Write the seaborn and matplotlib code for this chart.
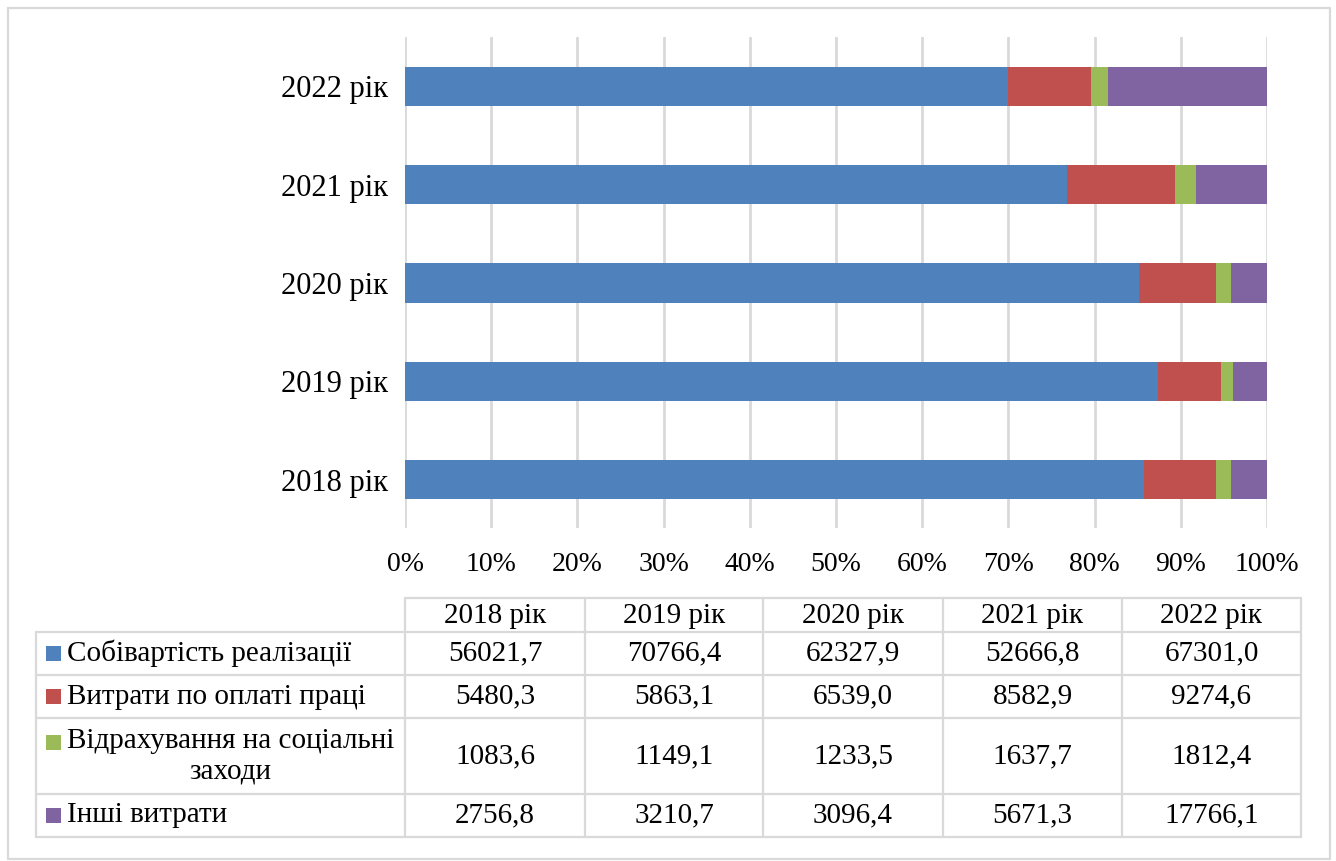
import numpy as np
import pandas as pd
import matplotlib
matplotlib.use("Agg")
import matplotlib.pyplot as plt
import seaborn as sns

# ---------------- data ----------------
years = ["2018 рік", "2019 рік", "2020 рік", "2021 рік", "2022 рік"]
series_names = ["Собівартість реалізації", "Витрати по оплаті праці",
                "Відрахування на соціальні\nзаходи", "Інші витрати"]
cost_of_sales = [56021.7, 70766.4, 62327.9, 52666.8, 67301.0]
labour_costs = [5480.3, 5863.1, 6539.0, 8582.9, 9274.6]
social_contrib = [1083.6, 1149.1, 1233.5, 1637.7, 1812.4]
other_costs = [2756.8, 3210.7, 3096.4, 5671.3, 17766.1]
value_labels = [
    ["56021,7", "70766,4", "62327,9", "52666,8", "67301,0"],
    ["5480,3", "5863,1", "6539,0", "8582,9", "9274,6"],
    ["1083,6", "1149,1", "1233,5", "1637,7", "1812,4"],
    ["2756,8", "3210,7", "3096,4", "5671,3", "17766,1"],
]
colors = ["#4F81BD", "#C0504D", "#9BBB59", "#8064A2"]

sns.set_theme(style="white")
plt.rcParams["font.family"] = ["Liberation Serif", "DejaVu Serif"]

W, H = 1336, 861
fig = plt.figure(figsize=(W / 100, H / 100), dpi=100)
fig.patch.set_facecolor("white")

# ---------------- stacked 100% bars ----------------
vals = np.array([cost_of_sales, labour_costs, social_contrib, other_costs])
shares = vals / vals.sum(axis=0) * 100
cum = np.cumsum(shares, axis=0)

df = pd.DataFrame({"year": years})
for i in range(4):
    df[f"c{i}"] = cum[i]

ax_l, ax_r, ax_t, ax_b = 405, 1267, 37, 528
ax = fig.add_axes([ax_l / W, 1 - ax_b / H, (ax_r - ax_l) / W, (ax_b - ax_t) / H])
order = years[::-1]
for i in range(3, -1, -1):
    sns.barplot(data=df, y="year", x=f"c{i}", order=order, orient="h",
                color=colors[i], saturation=1, width=0.4, ax=ax,
                edgecolor="none", linewidth=0)

ax.set_xlim(0, 100)
ax.set_ylim(4.49, -0.5)
ax.set_xticks(np.arange(0, 101, 10))
ax.set_xticklabels([f"{t}%" for t in range(0, 101, 10)])
ax.xaxis.grid(True, color="#D9D9D9", linewidth=2)
ax.yaxis.grid(False)
ax.set_axisbelow(True)
for s in ax.spines.values():
    s.set_visible(False)
ax.set_xlabel("")
ax.set_ylabel("")
ax.tick_params(axis="x", length=0, pad=17, labelsize=20, colors="black")
ax.tick_params(axis="y", length=0, pad=12, labelsize=22, colors="black")

# ---------------- data table ----------------
ov = fig.add_axes([0, 0, 1, 1])
ov.set_xlim(0, W)
ov.set_ylim(H, 0)
ov.axis("off")
ov.patch.set_alpha(0)

gc = "#D9D9D9"
lw = 1.6
col_x = [405, 585, 763, 943, 1122, 1301]
row_y = [598, 632, 675, 718, 794, 837]
left_x = 36

# outer frame of the chart
ov.plot([8, 1330, 1330, 8, 8], [8, 8, 859, 859, 8], color=gc, lw=lw)

# table grid
ov.plot([col_x[0], col_x[-1]], [row_y[0], row_y[0]], color=gc, lw=lw)
for y in row_y[1:]:
    ov.plot([left_x, col_x[-1]], [y, y], color=gc, lw=lw)
for x in col_x:
    ov.plot([x, x], [row_y[0], row_y[-1]], color=gc, lw=lw)
ov.plot([left_x, left_x], [row_y[1], row_y[-1]], color=gc, lw=lw)

fs = 21
for j, yr in enumerate(years):
    cx = (col_x[j] + col_x[j + 1]) / 2
    ov.text(cx, (row_y[0] + row_y[1]) / 2 + 1, yr, ha="center", va="center",
            fontsize=fs, color="black")

msz = 15
for i, name in enumerate(series_names):
    cy = (row_y[i + 1] + row_y[i + 2]) / 2
    if "\n" in name:
        first_y = cy - 14
        ov.add_patch(plt.Rectangle((46, first_y - msz / 2), msz, msz,
                                   color=colors[i], lw=0))
        ov.text(67, cy, name, ha="left", va="center", fontsize=fs,
                multialignment="center", color="black", linespacing=1.2)
    else:
        ov.add_patch(plt.Rectangle((46, cy - msz / 2), msz, msz,
                                   color=colors[i], lw=0))
        ov.text(67, cy, name, ha="left", va="center", fontsize=fs, color="black")
    for j in range(5):
        cx = (col_x[j] + col_x[j + 1]) / 2
        ov.text(cx, cy, value_labels[i][j], ha="center", va="center",
                fontsize=fs, color="black")

fig.savefig("out.png", dpi=100, facecolor="white")
